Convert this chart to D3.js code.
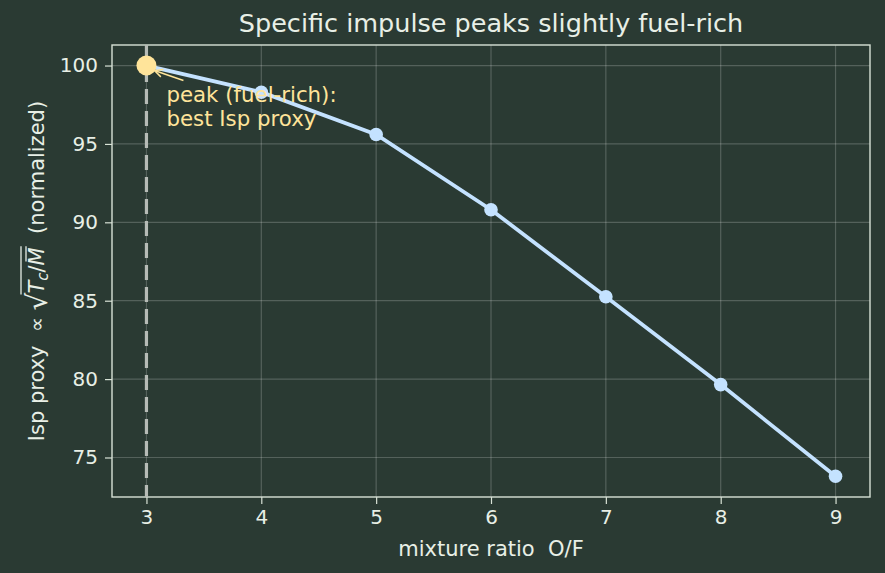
<!DOCTYPE html>
<html><head><meta charset="utf-8">
<script src="https://cdn.jsdelivr.net/npm/d3@7"></script>
<style>body{margin:0;background:#2a3a33;} svg{display:block;font-family:"DejaVu Sans",sans-serif;} text{white-space:pre;}</style>
</head><body>
<svg id="c" width="885" height="573"></svg>
<script>
const mixtureRatio = [3, 4, 5, 6, 7, 8, 9];
const ispProxy = [100, 98.3, 95.6, 90.8, 85.25, 79.65, 73.8];
const xTicks = [3, 4, 5, 6, 7, 8, 9];
const yTicks = [75, 80, 85, 90, 95, 100];
const peakIndex = 0;

const W = 885, H = 573;
const m = {l: 112, r: 15, t: 45, b: 76};
const svg = d3.select("#c");
svg.append("rect").attr("width", W).attr("height", H).attr("fill", "#2a3a33");

const x = d3.scaleLinear().domain([2.7, 9.3]).range([m.l, W - m.r]);
const y = d3.scaleLinear().domain([72.48, 101.31]).range([H - m.b, m.t]);

const fg = "#e8efe6";
const FONT = "DejaVu Sans";
// grid
const g = svg.append("g");
g.selectAll(".gx").data(xTicks).join("line")
  .attr("x1", d => x(d)).attr("x2", d => x(d)).attr("y1", m.t).attr("y2", H - m.b)
  .attr("stroke", "#ffffff").attr("stroke-opacity", 0.2).attr("stroke-width", 1.2);
g.selectAll(".gy").data(yTicks).join("line")
  .attr("y1", d => y(d)).attr("y2", d => y(d)).attr("x1", m.l).attr("x2", W - m.r)
  .attr("stroke", "#ffffff").attr("stroke-opacity", 0.2).attr("stroke-width", 1.2);

// axes
const xAxis = svg.append("g").attr("transform", `translate(0,${H - m.b})`)
  .call(d3.axisBottom(x).tickValues(xTicks).tickSize(7).tickPadding(6).tickFormat(d3.format("d")));
const yAxis = svg.append("g").attr("transform", `translate(${m.l},0)`)
  .call(d3.axisLeft(y).tickValues(yTicks).tickSize(7).tickPadding(7).tickFormat(d3.format("d")));
[xAxis, yAxis].forEach(a => {
  a.select(".domain").remove();
  a.selectAll(".tick line").attr("stroke", "#d8e2d6").attr("stroke-width", 1.2);
  a.selectAll(".tick text").attr("fill", fg).attr("font-size", 20).attr("font-family", FONT);
});
// spines
svg.append("rect").attr("x", m.l).attr("y", m.t).attr("width", W - m.r - m.l).attr("height", H - m.b - m.t)
  .attr("fill", "none").attr("stroke", "#d8e2d6").attr("stroke-width", 1.4);

// dashed vertical at peak
svg.append("line").attr("x1", x(mixtureRatio[peakIndex])).attr("x2", x(mixtureRatio[peakIndex]))
  .attr("y1", m.t).attr("y2", H - m.b)
  .attr("stroke", "#b6bbb6").attr("stroke-width", 3.2).attr("stroke-dasharray", "15,7");

// line
const pts = mixtureRatio.map((d, i) => [d, ispProxy[i]]);
svg.append("path").datum(pts)
  .attr("d", d3.line().x(d => x(d[0])).y(d => y(d[1])))
  .attr("fill", "none").attr("stroke", "#c4e2ff").attr("stroke-width", 3.8);
svg.selectAll(".pt").data(pts).join("circle")
  .attr("cx", d => x(d[0])).attr("cy", d => y(d[1])).attr("r", 6.8)
  .attr("fill", "#c4e2ff");

// peak marker
const px = x(mixtureRatio[peakIndex]), py = y(ispProxy[peakIndex]);
svg.append("circle").attr("cx", px).attr("cy", py).attr("r", 10).attr("fill", "#ffe49a");

// annotation arrow
const ann = "#ffe49a";
const sx = px + 37, sy = py + 15, ex = px + 8, ey = py + 5;
svg.append("line").attr("x1", sx).attr("y1", sy).attr("x2", ex).attr("y2", ey)
  .attr("stroke", ann).attr("stroke-width", 1.5);
const ang = Math.atan2(sy - ey, sx - ex), hl = 9;
const h1 = [ex + hl * Math.cos(ang + 0.45), ey + hl * Math.sin(ang + 0.45)];
const h2 = [ex + hl * Math.cos(ang - 0.45), ey + hl * Math.sin(ang - 0.45)];
svg.append("path").attr("d", `M${h1[0]},${h1[1]} L${ex},${ey} L${h2[0]},${h2[1]}`)
  .attr("stroke", ann).attr("stroke-width", 1.5).attr("fill", "none");
const at = svg.append("text").attr("fill", ann).attr("font-size", 21.3);
at.append("tspan").attr("x", px + 20).attr("y", 102).attr("dx", 0).text("peak (fuel-rich):");
at.append("tspan").attr("x", px + 20).attr("y", 126).text("best Isp proxy");

// title
svg.append("text").attr("x", (m.l + W - m.r) / 2).attr("y", 32).attr("text-anchor", "middle")
  .attr("fill", fg).attr("font-size", 25.5).text("Specific impulse peaks slightly fuel-rich");

// x label
svg.append("text").attr("x", (m.l + W - m.r) / 2).attr("y", 556).attr("text-anchor", "middle")
  .attr("fill", fg).attr("font-size", 21).text("mixture ratio  O/F");

// y label with math, laid out piece by piece in rotated frame
const FS = 21;
const yl = svg.append("g");
let cx = 0;
function piece(txt, opts = {}) {
  const t = yl.append("text").attr("x", cx).attr("y", opts.dy || 0)
    .attr("fill", fg).attr("font-size", opts.size || FS)
    .attr("font-style", opts.italic ? "italic" : "normal").text(txt);
  const w = t.node().getComputedTextLength();
  const start = cx;
  cx += w + (opts.kern || 0);
  return [start, cx];
}
piece("Isp proxy  ");
piece("∝ ");
piece("√", {size: 28, dy: 3, kern: -1});
const rStart = cx;
piece("T", {italic: true});
piece("c", {italic: true, size: 15, dy: 4});
piece("/", {});
const mx = piece("M", {italic: true});
const rEnd = cx + 1;
// bar over M
yl.append("line").attr("x1", mx[0] + 4).attr("x2", mx[1] + 1).attr("y1", -18).attr("y2", -18)
  .attr("stroke", fg).attr("stroke-width", 1.3);
// vinculum
yl.append("line").attr("x1", rStart - 1).attr("x2", rEnd).attr("y1", -23).attr("y2", -23)
  .attr("stroke", fg).attr("stroke-width", 1.3);
piece("  (normalized)");
const total = cx;
yl.attr("transform", `translate(44,${(m.t + H - m.b) / 2}) rotate(-90) translate(${-total / 2},0)`);
</script>
</body></html>
